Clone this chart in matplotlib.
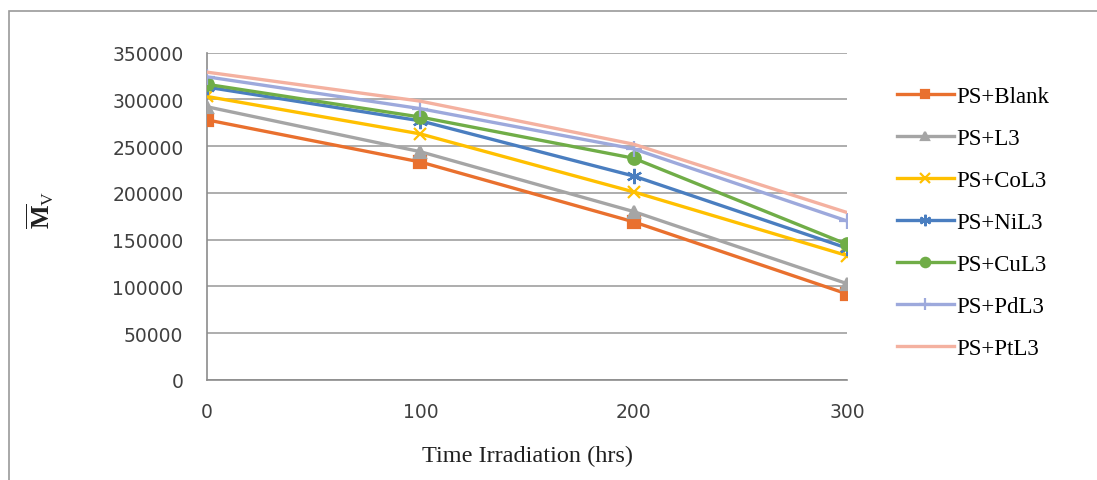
import matplotlib.pyplot as plt
from matplotlib.patches import Rectangle

plt.rcParams["mathtext.fontset"] = "custom"
plt.rcParams["mathtext.rm"] = "Liberation Serif"
plt.rcParams["mathtext.bf"] = "Liberation Serif:bold"

hours = [0, 100, 200, 300]
ps_blank = [278000, 233000, 169000, 92000]
ps_l3 = [292000, 244000, 180000, 103000]
ps_col3 = [303000, 263000, 201000, 133000]
ps_nil3 = [313000, 277000, 218000, 141000]
ps_cul3 = [316000, 281000, 237000, 145000]
ps_pdl3 = [324000, 290000, 247000, 170000]
ps_ptl3 = [329000, 298000, 252000, 179000]

series = [
    ("PS+Blank", ps_blank, "#E9702E", "s", 8),
    ("PS+L3", ps_l3, "#A5A5A5", "^", 8),
    ("PS+CoL3", ps_col3, "#FFC000", "x", 9),
    ("PS+NiL3", ps_nil3, "#4A7EC0", (6, 2, 0), 11),
    ("PS+CuL3", ps_cul3, "#70AD47", "o", 9),
    ("PS+PdL3", ps_pdl3, "#9DA9DC", "+", 11),
    ("PS+PtL3", ps_ptl3, "#F4B1A0", None, 0),
]

fig = plt.figure(figsize=(10.97, 4.81), dpi=100)
# chart frame
fig.patches.append(Rectangle((9 / 1097, -0.1), 1.2, 1 - 12 / 481 + 0.1,
                             transform=fig.transFigure, fill=False,
                             edgecolor="#9a9a9a", linewidth=1.2))

ax = fig.add_axes([207 / 1097, 1 - 381 / 481, (847 - 207) / 1097, (381 - 53.5) / 481])

for name, vals, col, mk, ms in series:
    ax.plot(hours, vals, color=col, linewidth=2.4, marker=mk, markersize=ms,
            markeredgewidth=1.6, label=name, zorder=3)

ax.set_xlim(0, 300)
ax.set_ylim(0, 350000)
ax.set_xticks(hours)
ax.set_yticks(range(0, 350001, 50000))
ax.grid(axis="y", color="#a0a0a0", linewidth=1.2)
ax.set_axisbelow(True)
for s in ["top", "right"]:
    ax.spines[s].set_visible(False)
ax.spines["left"].set_color("#8c8c8c")
ax.spines["bottom"].set_color("#8c8c8c")
ax.spines["left"].set_linewidth(1.2)
ax.spines["bottom"].set_linewidth(1.2)
ax.tick_params(length=0, labelsize=13.5, colors="#404040")
ax.tick_params(axis="y", pad=17)
ax.tick_params(axis="x", pad=16)

ax.set_xlabel("Time Irradiation (hrs)", family="Liberation Serif", fontsize=17.5,
              color="#202020", labelpad=17)
fig.text(40 / 1097, 1 - 210 / 481, r"$\overline{\mathbf{M}}_{\mathrm{V}}$",
         rotation=90, fontsize=18, ha="center", va="center", color="#202020")

leg = fig.legend(loc="upper left", bbox_to_anchor=(876 / 1097, 1 - 66 / 481),
                 frameon=False, handlelength=2.5, handletextpad=0.1,
                 labelspacing=0.92, markerscale=0.75,
                 prop={"family": "Liberation Serif", "size": 16.5})

fig.savefig("out.png", dpi=100)
